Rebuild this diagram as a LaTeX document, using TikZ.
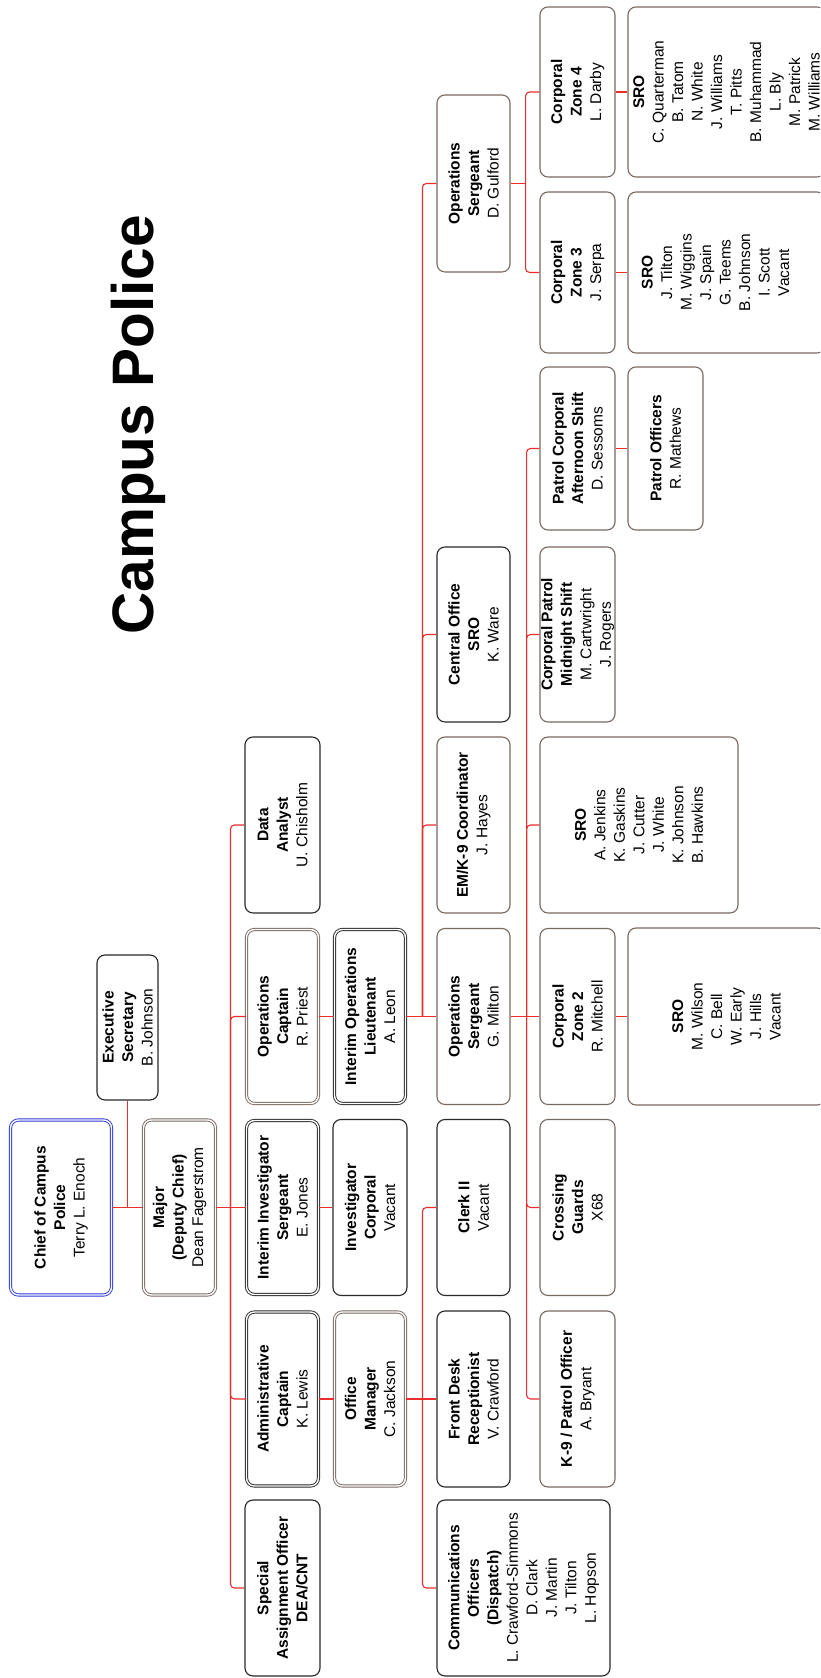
\documentclass[tikz,border=0pt]{standalone}
\usepackage{fontspec}
\setmainfont{Liberation Sans}
\definecolor{taupe}{RGB}{120,104,98}
\definecolor{bblack}{RGB}{40,40,40}
\definecolor{cblue}{RGB}{45,55,215}
\definecolor{lred}{RGB}{236,45,45}
\newcommand{\bodyfont}{\fontsize{15.5}{19.5}\selectfont}
\newcommand{\ttlfont}{\fontsize{58.5}{60}\selectfont\bfseries}
\newcommand{\hb}[1]{\textbf{#1}}
\tikzset{
  bx/.style={rectangle, rounded corners=8pt, rotate=90, align=center, inner sep=0pt, line width=1.1pt, font=\bodyfont},
  blk/.style={bx, draw=bblack},
  tau/.style={bx, draw=taupe},
  dbl/.style={bx, line width=0.9pt, double=white, double distance=1.4pt},
  dblk/.style={dbl, draw=bblack},
  dtau/.style={dbl, draw=taupe},
  dblue/.style={dbl, draw=cblue},
  txt/.style={rotate=90, align=center, inner sep=0pt, font=\bodyfont},
  conn/.style={draw=lred, line width=1.1pt, rounded corners=4pt},
}
\begin{document}
\begin{tikzpicture}[x=1pt,y=1pt]
\path[use as bounding box] (0,0) rectangle (820,1678);
\clip (0,0) rectangle (820,1678);
\fill[white] (0,0) rectangle (820,1678);

\node[rotate=90, anchor=base, font=\ttlfont, inner sep=0pt] (title) at (153,1253) {Campus Police};

% level 0/1
\node[dblue, minimum width=175pt, minimum height=101pt] (chief) at (61,470.5) {\hb{Chief of Campus}\\\hb{Police}\\Terry L. Enoch};
\node[dtau, minimum width=175pt, minimum height=72pt] (major) at (179.5,470.5) {\hb{Major}\\\hb{(Deputy Chief)}\\Dean Fagerstrom};
\node[blk, minimum width=145pt, minimum height=61pt] (exec) at (127.5,650.5) {\hb{Executive}\\\hb{Secretary}\\B. Johnson};

% level 2
\node[blk, minimum width=176pt, minimum height=75pt] (dataan) at (282.5,853) {\hb{Data}\\\hb{Analyst}\\U. Chisholm};
\node[dtau, minimum width=174pt, minimum height=72pt] (opscap) at (282.5,661.5) {\hb{Operations}\\\hb{Captain}\\R. Priest};
\node[dblk, minimum width=174pt, minimum height=72pt] (invsgt) at (282.5,470.5) {\hb{Interim Investigator}\\\hb{Sergeant}\\E. Jones};
\node[dblk, minimum width=174pt, minimum height=72pt] (admcap) at (282.5,279) {\hb{Administrative}\\\hb{Captain}\\K. Lewis};
\node[blk, minimum width=176pt, minimum height=75pt] (special) at (282.5,90) {\hb{Special}\\\hb{Assignment Officer}\\\hb{DEA/CNT}};

% level 3
\node[dblk, minimum width=174pt, minimum height=71pt] (opslt) at (370,661.5) {\hb{Interim Operations}\\\hb{Lieutenant}\\A. Leon};
\node[blk, minimum width=176pt, minimum height=74pt] (invcpl) at (370,470.5) {\hb{Investigator}\\\hb{Corporal}\\Vacant};
\node[dtau, minimum width=174pt, minimum height=71pt] (offmgr) at (370,279) {\hb{Office}\\\hb{Manager}\\C. Jackson};

% level 4
\node[tau, minimum width=177pt, minimum height=73pt] (gulford) at (473.5,1494.5) {\hb{Operations}\\\hb{Sergeant}\\D. Gulford};
\node[blk, minimum width=175pt, minimum height=73pt] (central) at (473.5,1043.5) {\hb{Central Office}\\\hb{SRO}\\K. Ware};
\node[tau, minimum width=176pt, minimum height=73pt] (emk9) at (473.5,853) {\hb{EM/K-9 Coordinator}\\J. Hayes};
\node[tau, minimum width=176pt, minimum height=73pt] (milton) at (473.5,661.5) {\hb{Operations}\\\hb{Sergeant}\\G. Milton};
\node[blk, minimum width=176pt, minimum height=73pt] (clerk) at (473.5,470.5) {\hb{Clerk II}\\Vacant};
\node[blk, minimum width=176pt, minimum height=73pt] (frontdesk) at (473.5,279) {\hb{Front Desk}\\\hb{Receptionist}\\V. Crawford};
\node[blk, minimum width=176pt, minimum height=173pt] (comm) at (523.5,90) {\hb{Communications}\\\hb{Officers}\\\hb{(Dispatch)}\\L. Crawford-Simmons\\D. Clark\\J. Martin\\J. Tilton\\L. Hopson};

% level 5
\node[tau, minimum width=170pt, minimum height=75pt] (zone4) at (577.5,1586) {\hb{Corporal}\\\hb{Zone 4}\\L. Darby};
\node[tau, minimum width=161pt, minimum height=75pt] (zone3) at (577.5,1405.5) {\hb{Corporal}\\\hb{Zone 3}\\J. Serpa};
\node[tau, minimum width=163pt, minimum height=75pt] (patrolaft) at (577.5,1229.5) {\hb{Patrol Corporal}\\\hb{Afternoon Shift}\\D. Sessoms};
\node[tau, minimum width=175pt, minimum height=75pt] (midnight) at (577.5,1043.5) {\hb{Corporal Patrol}\\\hb{Midnight Shift}\\M. Cartwright\\J. Rogers};
\node[tau, minimum width=176pt, minimum height=198pt] (jenkins) at (639,853) {\hb{SRO}\\A. Jenkins\\K. Gaskins\\J. Cutter\\J. White\\K. Johnson\\B. Hawkins};
\node[tau, minimum width=176pt, minimum height=75pt] (zone2) at (577.5,661.5) {\hb{Corporal}\\\hb{Zone 2}\\R. Mitchell};
\node[tau, minimum width=176pt, minimum height=75pt] (crossing) at (577.5,470.5) {\hb{Crossing}\\\hb{Guards}\\X68};
\node[tau, minimum width=176pt, minimum height=75pt] (k9) at (577.5,279) {\hb{K-9 / Patrol Officer}\\A. Bryant};

% level 6
\node[tau, minimum width=170pt, minimum height=197pt] (sro4) at (726.5,1586) {\hb{SRO}\\C. Quarterman\\B. Tatom\\N. White\\J. Williams\\T. Pitts\\B. Muhammad\\L. Bly\\M. Patrick\\M. Williams};
\node[tau, minimum width=161pt, minimum height=197pt] (sro3) at (726.5,1405.5) {};
\node[txt] (sro3txt) at ([xshift=-11pt]sro3.center) {\hb{SRO}\\J. Tilton\\M. Wiggins\\J. Spain\\G. Teems\\B. Johnson\\I. Scott\\Vacant};
\node[tau, minimum width=163pt, minimum height=75pt] (patrolofc) at (665.5,1229.5) {\hb{Patrol Officers}\\R. Mathews};
\node[tau, minimum width=177pt, minimum height=197pt] (sro2) at (726.5,661.5) {\hb{SRO}\\M. Wilson\\C. Bell\\W. Early\\J. Hills\\Vacant};

% connectors
\coordinate (b2) at ([xshift=14.5pt]major.south);
\coordinate (b4a) at ([xshift=16.5pt]offmgr.south);
\coordinate (b4b) at ([xshift=16.5pt]opslt.south);
\coordinate (b5a) at ([xshift=16pt]milton.south);
\coordinate (b5b) at ([xshift=15pt]gulford.south);

\draw[conn] (chief.south) -- (major.north);
\draw[conn] (exec.west) |- (chief.south -| exec.west);
\draw[conn] (major.south) -- (b2) -- (invsgt.north);
\foreach \c in {dataan,opscap,admcap,special}{\draw[conn] (b2) |- (\c.north);}

\draw[conn] (opscap.south) -- (opslt.north);
\draw[conn] (invsgt.south) -- (invcpl.north);
\draw[conn] (admcap.south) -- (offmgr.north);

\draw[conn] (offmgr.south) -- (b4a) -- (frontdesk.north);
\foreach \c in {clerk,comm}{\draw[conn] (b4a) |- (\c.north);}

\draw[conn] (opslt.south) -- (b4b) -- (milton.north);
\foreach \c in {gulford,central,emk9}{\draw[conn] (b4b) |- (\c.north);}

\draw[conn] (milton.south) -- (b5a) -- (zone2.north);
\foreach \c in {patrolaft,midnight,jenkins,crossing,k9}{\draw[conn] (b5a) |- (\c.north);}

\draw[conn] (gulford.south) -- (b5b);
\foreach \c in {zone4,zone3}{\draw[conn] (b5b) |- (\c.north);}

\draw[conn] (zone4.south) -- (sro4.north);
\draw[conn] (zone3.south) -- (sro3.north);
\draw[conn] (patrolaft.south) -- (patrolofc.north);
\draw[conn] (zone2.south) -- (sro2.north);
\end{tikzpicture}
\end{document}
